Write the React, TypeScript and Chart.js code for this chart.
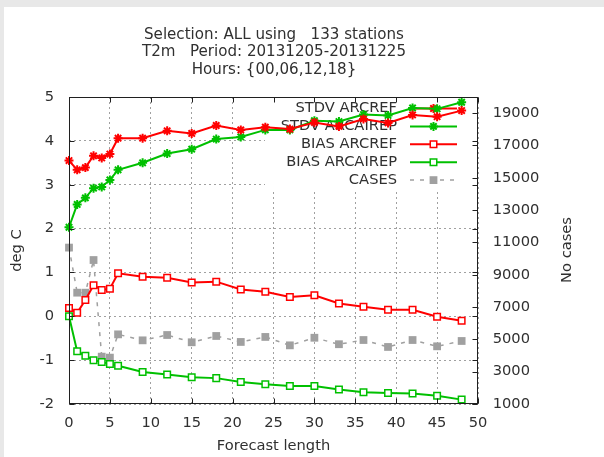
import React, { useEffect, useRef } from "react";
import { Chart, registerables } from "chart.js";
import { drawPoint } from "chart.js/helpers";

Chart.register(...registerables);

const titleLines = [
  "Selection: ALL using   133 stations",
  "T2m   Period: 20131205-20131225",
  "Hours: {00,06,12,18}",
];
const xAxisTitle = "Forecast length";
const yAxisTitle = "deg C";
const y2AxisTitle = "No cases";

const seriesLabels = ["STDV ARCREF", "STDV ARCAIREP", "BIAS ARCREF", "BIAS ARCAIREP", "CASES"];

const leadTimes = [0, 1, 2, 3, 4, 5, 6, 9, 12, 15, 18, 21, 24, 27, 30, 33, 36, 39, 42, 45, 48];
const stdvArcref = [3.55, 3.34, 3.39, 3.66, 3.61, 3.7, 4.06, 4.06, 4.23, 4.17, 4.35, 4.25, 4.31, 4.27, 4.42, 4.33, 4.5, 4.41, 4.59, 4.55, 4.69];
const stdvArcairep = [2.03, 2.55, 2.7, 2.92, 2.95, 3.11, 3.34, 3.5, 3.71, 3.81, 4.04, 4.09, 4.25, 4.25, 4.46, 4.44, 4.6, 4.58, 4.75, 4.73, 4.88];
const biasArcref = [0.19, 0.08, 0.37, 0.71, 0.6, 0.63, 0.98, 0.9, 0.88, 0.77, 0.79, 0.61, 0.56, 0.44, 0.48, 0.29, 0.22, 0.15, 0.15, -0.01, -0.1];
const biasArcairep = [0.0, -0.8, -0.9, -1.0, -1.04, -1.09, -1.13, -1.27, -1.33, -1.39, -1.41, -1.5, -1.55, -1.59, -1.59, -1.67, -1.73, -1.75, -1.76, -1.81, -1.9];
const cases = [10680, 7890, 7890, 9910, 3930, 3870, 5310, 4940, 5270, 4820, 5210, 4840, 5150, 4630, 5100, 4700, 4960, 4530, 4960, 4570, 4900];

const xTickValues = [0, 5, 10, 15, 20, 25, 30, 35, 40, 45, 50];
const yTickValues = [-2, -1, 0, 1, 2, 3, 4, 5];
const y2TickValues = [1000, 3000, 5000, 7000, 9000, 11000, 13000, 15000, 17000, 19000];

const FONT = '"DejaVu Sans", sans-serif';
const FS = 14.67;
const TITLE_FS = 15.1;
const TEXT = "#303030";
const RED = "#ff0000";
const GREEN = "#00c000";
const GRAY = "#a0a0a0";

const toPoints = (ys: number[]) => leadTimes.map((x, i) => ({ x, y: ys[i] }));

const decor = {
  id: "decor",
  beforeDatasetsDraw(chart: any) {
    const ctx = chart.ctx;
    const a = chart.chartArea;
    ctx.save();
    ctx.fillStyle = "#ffffff";
    ctx.fillRect(261, a.top + 1, a.right - 261 - 1, 181 - a.top);
    ctx.font = `${FS}px ${FONT}`;
    ctx.textAlign = "right";
    ctx.textBaseline = "middle";
    chart.data.datasets.forEach((ds: any, i: number) => {
      const y = 101.5 + i * 17.9;
      ctx.fillStyle = TEXT;
      ctx.fillText(ds.label, 393, y);
      ctx.save();
      ctx.strokeStyle = ds.borderColor;
      ctx.lineWidth = ds.borderWidth;
      ctx.setLineDash(ds.borderDash || []);
      ctx.beginPath();
      ctx.moveTo(406, y);
      ctx.lineTo(453, y);
      ctx.stroke();
      ctx.restore();
      ctx.save();
      ctx.strokeStyle = ds.pointBorderColor;
      ctx.fillStyle = ds.pointBackgroundColor;
      ctx.lineWidth = ds.pointBorderWidth;
      drawPoint(ctx, { pointStyle: ds.pointStyle, rotation: 0, radius: ds.pointRadius, borderWidth: ds.pointBorderWidth }, 429.5, y);
      ctx.restore();
    });
    ctx.restore();
  },
  afterDraw(chart: any) {
    const ctx = chart.ctx;
    const a = chart.chartArea;
    const xs = chart.scales.x;
    const ys = chart.scales.y;
    const y2 = chart.scales.y2;
    const L = Math.round(a.left) + 0.5;
    const R = Math.round(a.right) - 0.5;
    const T = Math.round(a.top) + 0.5;
    const B = Math.round(a.bottom) - 0.5;
    const TL = 5;
    ctx.save();
    ctx.strokeStyle = "#202020";
    ctx.lineWidth = 1;
    ctx.beginPath();
    xTickValues.forEach((v) => {
      const px = Math.round(xs.getPixelForValue(v)) + 0.5;
      ctx.moveTo(px, B);
      ctx.lineTo(px, B - TL);
      ctx.moveTo(px, T);
      ctx.lineTo(px, T + TL);
    });
    yTickValues.forEach((v) => {
      const py = Math.round(ys.getPixelForValue(v)) + 0.5;
      ctx.moveTo(L, py);
      ctx.lineTo(L + TL, py);
      ctx.moveTo(R, py);
      ctx.lineTo(R - TL, py);
    });
    y2TickValues.forEach((v) => {
      const py = Math.round(y2.getPixelForValue(v)) + 0.5;
      ctx.moveTo(R, py);
      ctx.lineTo(R - TL, py);
    });
    ctx.stroke();
    ctx.strokeRect(L, T, R - L, B - T);

    ctx.fillStyle = TEXT;
    ctx.font = `${TITLE_FS}px ${FONT}`;
    ctx.textAlign = "center";
    ctx.textBaseline = "middle";
    titleLines.forEach((t, i) => ctx.fillText(t, 270, 28 + i * 17.5));

    ctx.font = `${FS}px ${FONT}`;
    ctx.translate(562.7, 243);
    ctx.rotate(-Math.PI / 2);
    ctx.fillText(y2AxisTitle, 0, 0);
    ctx.restore();
  },
};

export default function App() {
  const ref = useRef<HTMLCanvasElement | null>(null);
  useEffect(() => {
    if (!ref.current) return;
    const font = { family: FONT, size: FS };
    const mk = (label: string, data: number[], color: string, style: string, extra: any = {}) => ({
      label,
      data: toPoints(data),
      borderColor: color,
      backgroundColor: color,
      borderWidth: 2,
      pointStyle: style,
      pointRadius: style === "star" ? 4.5 : 4.6,
      pointHoverRadius: 4.6,
      pointBorderColor: color,
      pointBackgroundColor: style === "star" ? color : "#ffffff",
      pointBorderWidth: style === "star" ? 2 : 1.5,
      tension: 0,
      clip: false,
      yAxisID: "y",
      ...extra,
    });
    const chart = new Chart(ref.current, {
      type: "line",
      data: {
        datasets: [
          mk(seriesLabels[0], stdvArcref, RED, "star"),
          mk(seriesLabels[1], stdvArcairep, GREEN, "star"),
          mk(seriesLabels[2], biasArcref, RED, "rect"),
          mk(seriesLabels[3], biasArcairep, GREEN, "rect"),
          mk(seriesLabels[4], cases, GRAY, "rect", {
            yAxisID: "y2",
            borderWidth: 1.5,
            borderDash: [4, 6],
            pointRadius: 5.5,
            pointBackgroundColor: GRAY,
            pointBorderColor: GRAY,
            pointBorderWidth: 0,
          }),
        ],
      },
      options: {
        animation: false,
        responsive: false,
        devicePixelRatio: 1,
        layout: { padding: { top: 90, left: 0, right: 0, bottom: 0 } },
        plugins: { legend: { display: false }, title: { display: false }, tooltip: { enabled: false } },
        scales: {
          x: {
            type: "linear",
            min: 0,
            max: 50,
            afterFit: (s: any) => { s.height = 53; },
            ticks: { stepSize: 5, font, color: TEXT, padding: 10.5, maxRotation: 0 },
            grid: { color: GRAY, lineWidth: 1, drawTicks: false },
            border: { display: false, dash: [2, 3] },
            title: { display: true, text: xAxisTitle, font: { family: FONT, size: FS, lineHeight: 1.2 }, color: TEXT, padding: { top: 0, bottom: 2.2 } },
          },
          y: {
            type: "linear",
            position: "left",
            min: -2,
            max: 5,
            afterFit: (s: any) => { s.width = 65; },
            ticks: { stepSize: 1, font, color: TEXT, padding: 15 },
            grid: { color: GRAY, lineWidth: 1, drawTicks: false },
            border: { display: false, dash: [2, 3] },
            title: { display: true, text: yAxisTitle, font: { family: FONT, size: FS, lineHeight: 1.2 }, color: TEXT, padding: { top: 4.2, bottom: 0 } },
          },
          y2: {
            type: "linear",
            position: "right",
            min: 1000,
            max: 20000,
            afterFit: (s: any) => { s.width = 126; },
            afterBuildTicks: (s: any) => { s.ticks = y2TickValues.map((v) => ({ value: v })); },
            ticks: { font, color: TEXT, padding: 14.7, callback: (v: any) => String(v) },
            grid: { display: false, drawTicks: false },
            border: { display: false },
          },
        },
      },
      plugins: [decor],
    } as any);
    return () => chart.destroy();
  }, []);
  return (
    <div style={{ position: "fixed", left: 0, top: 0, width: 604, height: 457, background: "#e8e8e8", overflow: "hidden" }}>
      <div style={{ position: "absolute", left: 4, top: 7, width: 600, height: 450, background: "#ffffff" }}>
        <canvas ref={ref} width={600} height={450} style={{ display: "block", width: 600, height: 450 }} />
      </div>
    </div>
  );
}
